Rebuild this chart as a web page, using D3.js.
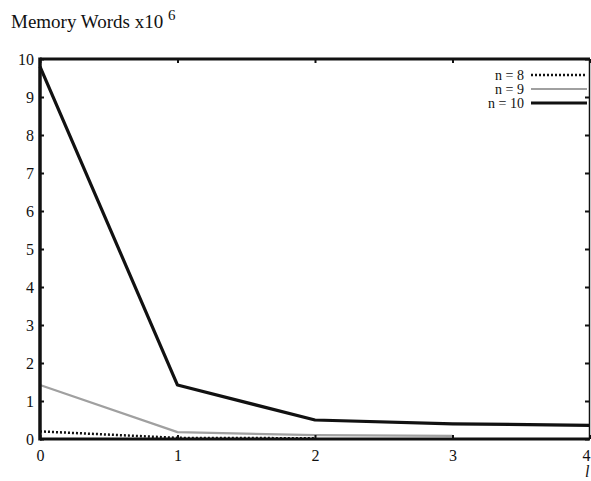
<!DOCTYPE html>
<html>
<head>
<meta charset="utf-8">
<script src="https://cdn.jsdelivr.net/npm/d3@7"></script>
<style>
  body { margin: 0; background: #fff; }
  svg text { font-family: "Liberation Serif", "DejaVu Serif", serif; fill: #111; }
</style>
</head>
<body>
<div id="chart"></div>
<script>
// data
var steps = [0, 1, 2, 3, 4];
var n8 = [0.2, 0.03, 0.02];
var n9 = [1.42, 0.18, 0.1, 0.08];
var n10 = [9.8, 1.42, 0.5, 0.4, 0.36];
var yTicks = [0, 1, 2, 3, 4, 5, 6, 7, 8, 9, 10];
var legendLabels = ["n = 8", "n = 9", "n = 10"];

var W = 591, H = 481;
var margin = {top: 59, right: 1, bottom: 42, left: 40};
var width = W - margin.left - margin.right;
var height = H - margin.top - margin.bottom;

var svg = d3.select("#chart").append("svg")
  .attr("width", W)
  .attr("height", H);

var x = d3.scaleLinear().domain([0, 4]).range([margin.left, margin.left + width]);
var y = d3.scaleLinear().domain([0, 10]).range([margin.top + height, margin.top]);

// title
svg.append("text")
  .attr("x", 11).attr("y", 28)
  .style("font-size", "19px")
  .text("Memory Words x10 ")
  .append("tspan")
  .attr("dy", -8)
  .style("font-size", "15px")
  .text("6");

// series
var series = [
  {vals: n8, stroke: "#111", width: 2.5, dash: "2,2"},
  {vals: n9, stroke: "#a0a0a0", width: 2.2, dash: null},
  {vals: n10, stroke: "#111", width: 3.2, dash: null}
];

var line = d3.line()
  .x(function(d, i) { return x(steps[i]); })
  .y(function(d) { return y(d); });

series.forEach(function(s) {
  svg.append("path")
    .datum(s.vals)
    .attr("d", line)
    .attr("fill", "none")
    .attr("stroke", s.stroke)
    .attr("stroke-width", s.width)
    .attr("stroke-dasharray", s.dash)
    .attr("stroke-linejoin", "round");
});

// frame
svg.append("line").attr("x1", x(0)).attr("x2", x(4)).attr("y1", y(10)).attr("y2", y(10))
  .attr("stroke", "#111").attr("stroke-width", 3);
svg.append("line").attr("x1", x(0)).attr("x2", x(4)).attr("y1", y(0)).attr("y2", y(0))
  .attr("stroke", "#111").attr("stroke-width", 3);
svg.append("line").attr("x1", x(0)).attr("x2", x(0)).attr("y1", y(0) + 1.5).attr("y2", y(10) - 1.5)
  .attr("stroke", "#111").attr("stroke-width", 3.5);
svg.append("line").attr("x1", x(4) - 0.5).attr("x2", x(4) - 0.5).attr("y1", y(0)).attr("y2", y(10))
  .attr("stroke", "#111").attr("stroke-width", 1.5);

// y axis
var yAxis = d3.axisLeft(y).tickValues(yTicks).tickSize(-4).tickPadding(6);
var gy = svg.append("g").attr("transform", "translate(" + x(0) + ",0)").call(yAxis);
gy.select(".domain").remove();
gy.selectAll(".tick line").attr("stroke", "#111").attr("stroke-width", 2);
gy.selectAll(".tick text").style("font-size", "16px").attr("font-family", null);

// right ticks
var yAxisR = d3.axisRight(y).tickValues(yTicks).tickSize(-4).tickFormat("");
var gyr = svg.append("g").attr("transform", "translate(" + (x(4) - 1) + ",0)").call(yAxisR);
gyr.select(".domain").remove();
gyr.selectAll(".tick line").attr("stroke", "#111").attr("stroke-width", 2);

// x axis
var xAxis = d3.axisBottom(x).tickValues(steps).tickSize(-4).tickPadding(11).tickFormat(d3.format("d"));
var gx = svg.append("g").attr("transform", "translate(0," + y(0) + ")").call(xAxis);
gx.select(".domain").remove();
gx.selectAll(".tick line").attr("stroke", "#111").attr("stroke-width", 2);
gx.selectAll(".tick text").style("font-size", "16px").attr("font-family", null);
// last label sits against the right edge
gx.selectAll(".tick text").filter(function(d) { return d === 4; }).attr("dx", -4);

// top ticks
var xAxisT = d3.axisTop(x).tickValues(steps).tickSize(-4).tickFormat("");
var gxt = svg.append("g").attr("transform", "translate(0," + y(10) + ")").call(xAxisT);
gxt.select(".domain").remove();
gxt.selectAll(".tick line").attr("stroke", "#111").attr("stroke-width", 2);

// x label at the bottom right corner
svg.append("text")
  .attr("x", 585).attr("y", 477)
  .style("font-size", "16px")
  .style("font-style", "italic")
  .text("l");

// legend
var legend = svg.append("g");
legendLabels.forEach(function(lab, i) {
  var ly = 75 + i * 14;
  legend.append("text")
    .attr("x", 524).attr("y", ly + 4.5)
    .attr("text-anchor", "end")
    .style("font-size", "14px")
    .text(lab);
  legend.append("line")
    .attr("x1", 531).attr("x2", 587)
    .attr("y1", ly).attr("y2", ly)
    .attr("stroke", series[i].stroke)
    .attr("stroke-width", series[i].width)
    .attr("stroke-dasharray", series[i].dash);
});
</script>
</body>
</html>
